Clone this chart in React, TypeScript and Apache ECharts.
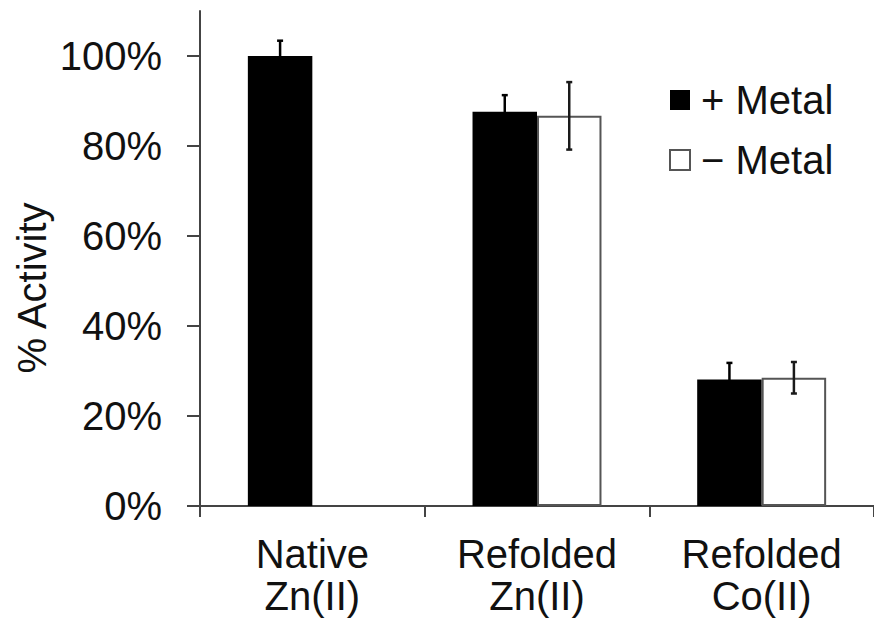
import React, { useEffect, useRef } from "react";
import * as echarts from "echarts";

const categories = ["Native\nZn(II)", "Refolded\nZn(II)", "Refolded\nCo(II)"];
const plusMetal = [100, 87.6, 28.1];
const plusMetalErr = [3.4, 3.7, 3.7];
const minusMetal: (number | null)[] = [null, 86.7, 28.5];
const minusMetalErr: (number | null)[] = [null, 7.5, 3.5];
const yTicks = [0, 20, 40, 60, 80, 100];
const seriesNames = ["+ Metal", "\u2212 Metal"];

const FONT = "'Liberation Sans', Arial, sans-serif";
const BAR_FRACTION = 0.287;

function errorData(vals: (number | null)[], errs: (number | null)[]) {
  const out: any[] = [];
  vals.forEach((v, i) => {
    const e = errs[i];
    if (v != null && e != null) out.push([i, v - e, v + e]);
  });
  return out;
}

function makeErrorRender(side: number, color: string) {
  return (params: any, api: any) => {
    const cat = api.value(0);
    const lo = api.coord([cat, api.value(1)]);
    const hi = api.coord([cat, api.value(2)]);
    const band = api.size([1, 0])[0];
    const x = lo[0] + side * band * BAR_FRACTION / 2;
    const cap = 3;
    const style = { stroke: color, lineWidth: 2.5, fill: null };
    return {
      type: "group",
      children: [
        { type: "line", shape: { x1: x, y1: lo[1], x2: x, y2: hi[1] }, style },
        { type: "line", shape: { x1: x - cap, y1: lo[1], x2: x + cap, y2: lo[1] }, style },
        { type: "line", shape: { x1: x - cap, y1: hi[1], x2: x + cap, y2: hi[1] }, style },
      ],
    };
  };
}

export default function App() {
  const ref = useRef<HTMLDivElement>(null);
  useEffect(() => {
    if (!ref.current) return;
    const chart = echarts.init(ref.current, null, { renderer: "svg" });
    chart.setOption({
      animation: false,
      backgroundColor: "#ffffff",
      textStyle: { fontFamily: FONT },
      grid: { left: 200, width: 681, top: 11, height: 495, containLabel: false },
      legend: {
        data: seriesNames,
        orient: "vertical",
        left: 669,
        top: 79,
        padding: 0,
        icon: "rect",
        itemWidth: 20,
        itemHeight: 20,
        itemGap: 18,
        textStyle: { fontSize: 40, lineHeight: 42, color: "#111", fontFamily: FONT, padding: [0, 0, 0, 6] },
      },
      xAxis: {
        type: "category",
        data: categories,
        boundaryGap: true,
        axisLine: { lineStyle: { color: "#444", width: 2 } },
        axisTick: { show: true, length: 11, alignWithLabel: false, lineStyle: { color: "#444", width: 2 } },
        axisLabel: { fontSize: 40, lineHeight: 42, color: "#111", margin: 27, fontFamily: FONT, interval: 0 },
        splitLine: { show: false },
      },
      yAxis: {
        type: "value",
        min: 0,
        max: 110,
        interval: 10,
        axisLine: { show: true, lineStyle: { color: "#444", width: 2 } },
        axisTick: { show: true, length: 13, customValues: yTicks, lineStyle: { color: "#444", width: 2 } },
        axisLabel: {
          fontSize: 40,
          color: "#111",
          margin: 38,
          fontFamily: FONT,
          customValues: yTicks,
          formatter: (v: number) => `${v}%`,
        },
        splitLine: { show: false },
      },
      graphic: [
        {
          type: "text",
          x: 32,
          y: 288,
          rotation: Math.PI / 2,
          style: {
            text: "% Activity",
            fontSize: 40,
            fontFamily: FONT,
            fill: "#111",
            align: "center",
            verticalAlign: "middle",
          },
        },
      ],
      series: [
        {
          name: seriesNames[0],
          type: "bar",
          data: plusMetal,
          barGap: "0%",
          barCategoryGap: "42.6%",
          itemStyle: { color: "#000000", borderColor: "#000000", borderWidth: 0 },
        },
        {
          name: seriesNames[1],
          type: "bar",
          data: minusMetal,
          barGap: "0%",
          barCategoryGap: "42.6%",
          itemStyle: { color: "#ffffff", borderColor: "#555555", borderWidth: 2 },
        },
        {
          name: "err+",
          type: "custom",
          renderItem: makeErrorRender(-1, "#000000"),
          data: errorData(plusMetal, plusMetalErr),
          z: 5,
          encode: { x: 0, y: [1, 2] },
        },
        {
          name: "err-",
          type: "custom",
          renderItem: makeErrorRender(1, "#1a1a1a"),
          data: errorData(minusMetal, minusMetalErr),
          z: 5,
          encode: { x: 0, y: [1, 2] },
        },
      ],
    });
    return () => chart.dispose();
  }, []);
  return <div ref={ref} style={{ width: 874, height: 624, position: "absolute", left: 0, top: 0 }} />;
}
